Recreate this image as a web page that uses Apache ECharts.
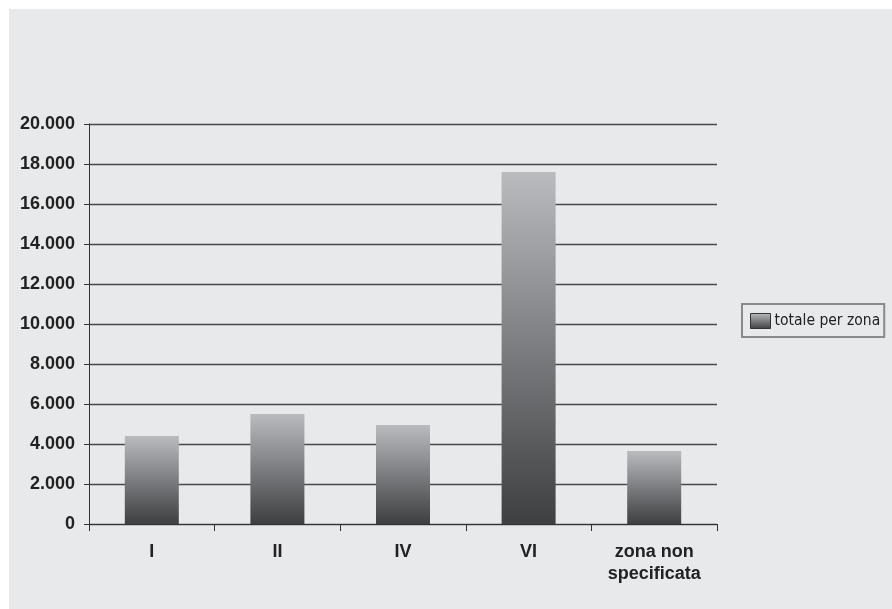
<!DOCTYPE html>
<html>
<head>
<meta charset="utf-8">
<script src="https://cdn.jsdelivr.net/npm/echarts@6/dist/echarts.min.js"></script>
<style>html,body{margin:0;padding:0;background:#fff;}#c{width:892px;height:609px;}</style>
</head>
<body>
<div id="c"></div>
<script>
var categories = ['I', 'II', 'IV', 'VI', 'zona non\nspecificata'];
var values = [4400, 5500, 4950, 17600, 3650];
var seriesName = 'totale per zona';

var chart = echarts.init(document.getElementById('c'));
var grad = new echarts.graphic.LinearGradient(0, 0, 0, 1, [
  {offset: 0, color: '#babbbf'},
  {offset: 1, color: '#3e3f41'}
]);
chart.setOption({
  backgroundColor: '#ffffff',
  animation: false,
  graphic: [{
    type: 'rect', z: -10, silent: true,
    shape: {x: 9, y: 9, width: 883, height: 600},
    style: {fill: '#e8e9eb'}
  }],
  grid: {left: 89, right: 175, top: 124, bottom: 85, containLabel: false},
  legend: {
    left: 742, top: 304,
    orient: 'vertical',
    data: [seriesName],
    icon: 'rect',
    itemWidth: 20, itemHeight: 15, itemGap: 4,
    padding: [9, 4, 8, 8],
    borderColor: '#8a8a8a', borderWidth: 2,
    itemStyle: {borderColor: '#333', borderWidth: 1},
    textStyle: {fontFamily: "'Liberation Sans Narrow', 'DejaVu Sans Condensed', 'Roboto Condensed', sans-serif", fontSize: 15.5, color: '#222', padding: [0, 0, 0, -1]}
  },
  xAxis: {
    type: 'category',
    data: categories,
    boundaryGap: true,
    axisLine: {lineStyle: {color: '#333', width: 1}},
    axisTick: {show: true, alignWithLabel: false, length: 7, lineStyle: {color: '#333'}},
    axisLabel: {fontFamily: 'Liberation Sans', fontWeight: 'bold', fontSize: 18, color: '#222', margin: 17, lineHeight: 22, interval: 0}
  },
  yAxis: {
    type: 'value',
    min: 0, max: 20000, interval: 2000,
    axisLine: {show: true, lineStyle: {color: '#333', width: 1}},
    axisTick: {show: true, length: 5, lineStyle: {color: '#333'}},
    splitLine: {show: true, lineStyle: {color: '#4a4a4a', width: 1.3}},
    axisLabel: {
      fontFamily: 'Liberation Sans', fontWeight: 'bold', fontSize: 18, color: '#222', margin: 14,
      formatter: function (v) { return v === 0 ? '0' : String(v).replace(/\B(?=(\d{3})+(?!\d))/g, '.'); }
    }
  },
  series: [{
    name: seriesName,
    type: 'bar',
    data: values,
    barWidth: 54,
    itemStyle: {color: grad}
  }]
});
</script>
</body>
</html>
